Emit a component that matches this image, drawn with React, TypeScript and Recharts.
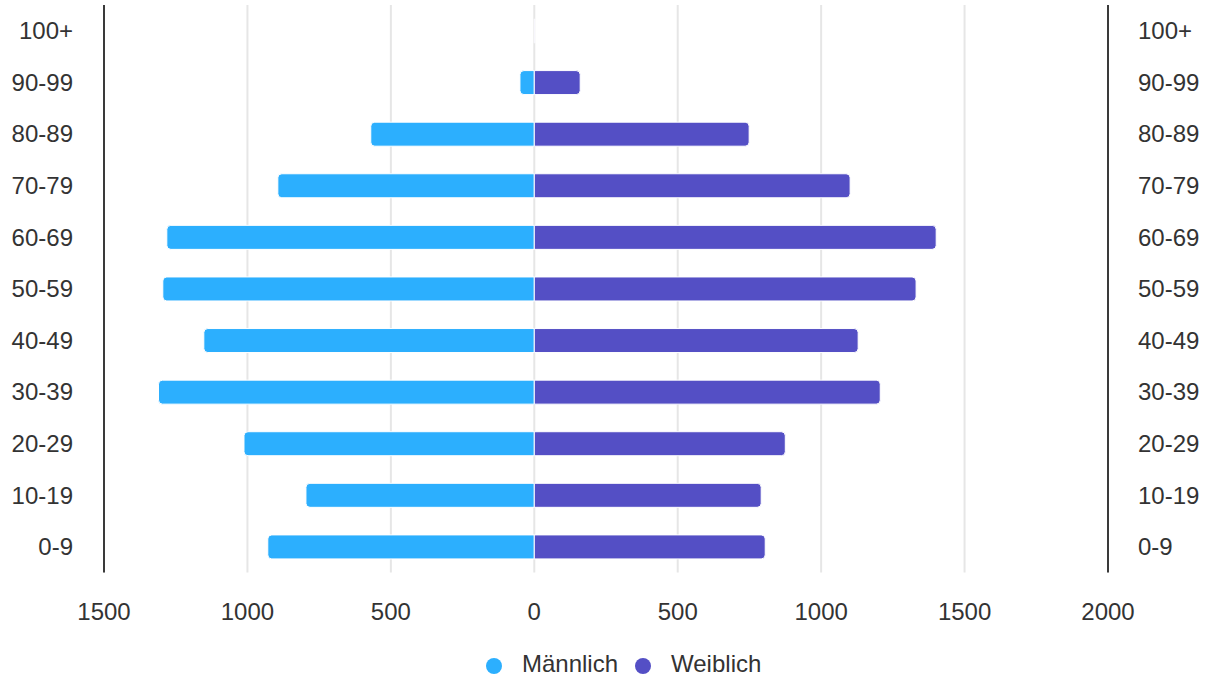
import { BarChart, Bar, XAxis, YAxis, CartesianGrid, Legend } from 'recharts'

const ageGroups = ['100+', '90-99', '80-89', '70-79', '60-69', '50-59', '40-49', '30-39', '20-29', '10-19', '0-9']
const maleValues = [0, 50, 570, 894, 1281, 1295, 1152, 1310, 1012, 796, 929]
const femaleValues = [2, 160, 749, 1101, 1401, 1331, 1129, 1206, 875, 791, 805]
const xTicks = [-1500, -1000, -500, 0, 500, 1000, 1500, 2000]

const MALE = '#2caffe'
const FEMALE = '#544fc5'
const TEXT = '#333333'

// male goes left, so store it negative and let stackOffset="sign" split the stack at 0
const data = ageGroups.map((age, i) => ({
  age,
  male: -maleValues[i],
  female: femaleValues[i],
}))

const legendItems = [
  { label: 'Männlich', color: MALE },
  { label: 'Weiblich', color: FEMALE },
]

function PyramidLegend() {
  return (
    <div style={{ height: 30, display: 'flex', alignItems: 'center', paddingLeft: 486 }}>
      {legendItems.map(item => (
        <div key={item.label} style={{ display: 'flex', alignItems: 'center', marginRight: 17 }}>
          <span
            style={{
              width: 16,
              height: 16,
              borderRadius: '50%',
              background: item.color,
              marginRight: 20,
              transform: 'translateY(3px)',
            }}
          />
          <span style={{ fontSize: 24, color: TEXT, transform: 'translateY(1px)' }}>{item.label}</span>
        </div>
      ))}
    </div>
  )
}

export default function App() {
  const tick = { fill: TEXT, fontSize: 24 }
  return (
    <div
      style={{
        position: 'absolute',
        left: 0,
        top: 0,
        width: 1209,
        height: 678,
        background: '#fff',
        fontFamily: "'Liberation Sans', Arial, Helvetica, sans-serif",
      }}
    >
      <BarChart
        width={1209}
        height={678}
        data={data}
        layout="vertical"
        stackOffset="sign"
        margin={{ top: 5, right: 0, bottom: 0, left: 0 }}
      >
        <CartesianGrid horizontal={false} stroke="#e6e6e6" strokeWidth={2} yAxisId="left" />
        <XAxis
          type="number"
          domain={[-1500, 2000]}
          ticks={xTicks}
          interval={0}
          allowDataOverflow
          tickFormatter={v => String(Math.abs(v))}
          axisLine={false}
          tickLine={false}
          tickSize={0}
          tickMargin={30}
          height={75.5}
          tick={tick}
        />
        <YAxis
          yAxisId="left"
          type="category"
          dataKey="age"
          orientation="left"
          width={104}
          axisLine={{ stroke: '#3a3a3a', strokeWidth: 2 }}
          tickLine={false}
          tickSize={0}
          tickMargin={31}
          interval={0}
          tick={tick}
        />
        <YAxis
          yAxisId="right"
          type="category"
          dataKey="age"
          orientation="right"
          width={101}
          axisLine={{ stroke: '#3a3a3a', strokeWidth: 2 }}
          tickLine={false}
          tickSize={0}
          tickMargin={30}
          interval={0}
          tick={tick}
        />
        <Legend verticalAlign="bottom" content={<PyramidLegend />} />
        {/* male rects have negative width, so the far (left) end is corners 1 and 2 */}
        <Bar
          yAxisId="left"
          dataKey="male"
          name="Männlich"
          stackId="pop"
          fill={MALE}
          stroke="#fff"
          strokeWidth={1}
          barSize={24}
          radius={[0, 4, 4, 0]}
          isAnimationActive={false}
        />
        <Bar
          yAxisId="left"
          dataKey="female"
          name="Weiblich"
          stackId="pop"
          fill={FEMALE}
          stroke="#fff"
          strokeWidth={1}
          barSize={24}
          radius={[0, 4, 4, 0]}
          isAnimationActive={false}
        />
      </BarChart>
    </div>
  )
}
